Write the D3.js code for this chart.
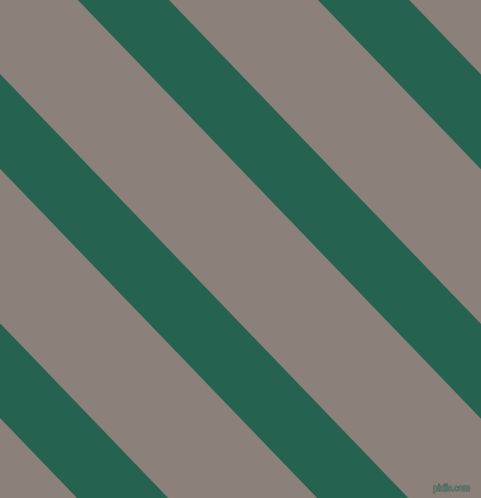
<!DOCTYPE html>
<html>
<head>
<meta charset="utf-8">
<script src="https://cdn.jsdelivr.net/npm/d3@7"></script>
<style>
html,body{margin:0;padding:0;background:#8b807a;overflow:hidden;}
svg{display:block;}
</style>
</head>
<body>
<svg id="chart" width="481" height="498"></svg>
<script>
// Data: stripe indices (diagonal bands), counted from the band that meets the top edge at its centre
const stripeIndex = [-2, -1, 0, 1, 2];
const stripeLabels = ["D", "A", "B", "C", "E"];
const watermark = ["pixiis.com"];

const W = 481, H = 498;
const svg = d3.select("#chart");

// background
svg.append("rect").attr("width", W).attr("height", H).attr("fill", "#8b807a");

// scale: stripe index -> x-intercept (at y = 0) of the band's upper edge
const bandScale = d3.scaleLinear().domain([0, 1]).range([169, 409.2]);
const bandWidth = 91.2;      // horizontal width of a band
const slope = 0.963;         // dx per dy of the band edges
const yScale = d3.scaleLinear().domain([0, 1]).range([-20, H + 20]);

const line = d3.line();
svg.append("g").selectAll("path")
  .data(stripeIndex)
  .join("path")
  .attr("fill", "#256250")
  .attr("d", k => {
    const u = bandScale(k), l = u - bandWidth;
    const y0 = yScale(0), y1 = yScale(1);
    return line([[u + slope * y0, y0], [u + slope * y1, y1], [l + slope * y1, y1], [l + slope * y0, y0]]) + "Z";
  });

svg.append("g").selectAll("text")
  .data(watermark)
  .join("text")
  .attr("x", 433)
  .attr("y", 491)
  .attr("textLength", 37)
  .attr("lengthAdjust", "spacingAndGlyphs")
  .attr("font-family", "Liberation Sans, Arial, sans-serif")
  .attr("font-size", 9)
  .attr("fill", "#8b807a")
  .attr("stroke", "#256250")
  .attr("stroke-width", 0.8)
  .attr("paint-order", "stroke")
  .text(d => d);
</script>
</body>
</html>
